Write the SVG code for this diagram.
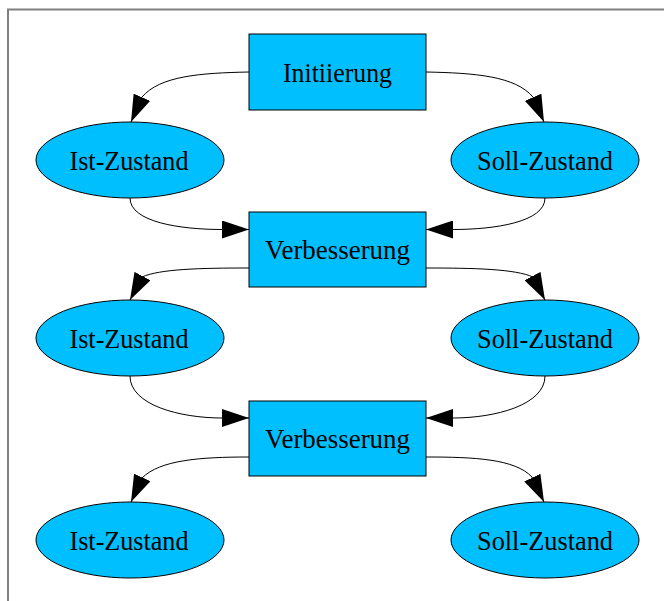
<svg xmlns="http://www.w3.org/2000/svg" width="664" height="601" viewBox="0 0 664 601">
<style>
.n{fill:#00bfff;stroke:#000;stroke-width:1}
.t{font-family:"Liberation Serif","Times New Roman",serif;font-size:27px;fill:#000;text-anchor:middle}
.e{fill:none;stroke:#000;stroke-width:1;marker-end:url(#ah)}
.frame{fill:none;stroke:#808080;stroke-width:2}
</style>
<defs>
<marker id="ah" markerUnits="userSpaceOnUse" viewBox="0 0 27 18" markerWidth="27" markerHeight="18" refX="27" refY="9" orient="auto">
<path d="M0,0 L27,9 L0,18 z" fill="#000"/>
</marker>
</defs>
<rect width="664" height="601" fill="#fff"/>
<path class="frame" d="M8,601 L8,9.5 L664,9.5"/>
<g id="connectors">
<path class="e" d="M249,72 C200,73 160,76 142,97 L131,122"/>
<path class="e" d="M426,72 C475,73 515,76 533,97 L544,122"/>
<path class="e" d="M130,198 C130,222 180,229.5 222,229.5 L249,229.5"/>
<path class="e" d="M545,198 C545,222 495,229.5 453,229.5 L426,229.5"/>
<path class="e" d="M249,268 C200,268 160,269 142,277 L130,300"/>
<path class="e" d="M426,268 C475,268 515,269 533,277 L545,300"/>
<path class="e" d="M130,376 C130,405 180,418 222,418 L249,418"/>
<path class="e" d="M545,376 C545,405 495,418 453,418 L426,418"/>
<path class="e" d="M249,457 C200,457 160,460 142,478 L131,502"/>
<path class="e" d="M426,457 C475,457 515,459 532,477 L544,502"/>
</g>
<g id="init"><rect class="n" x="249" y="34" width="177" height="76"/><text class="t" x="337.5" y="81.5" textLength="109" lengthAdjust="spacingAndGlyphs">Initiierung</text></g>
<g id="ist1"><ellipse class="n" cx="130" cy="160" rx="94" ry="38"/><text class="t" x="129" y="169.5" textLength="119" lengthAdjust="spacingAndGlyphs">Ist-Zustand</text></g>
<g id="soll1"><ellipse class="n" cx="545" cy="160" rx="94" ry="38"/><text class="t" x="545" y="169.5" textLength="136" lengthAdjust="spacingAndGlyphs">Soll-Zustand</text></g>
<g id="verb1"><rect class="n" x="249" y="212" width="177" height="75"/><text class="t" x="337.5" y="259" textLength="145" lengthAdjust="spacingAndGlyphs">Verbesserung</text></g>
<g id="ist2"><ellipse class="n" cx="130" cy="338" rx="94" ry="38"/><text class="t" x="129" y="347.5" textLength="119" lengthAdjust="spacingAndGlyphs">Ist-Zustand</text></g>
<g id="soll2"><ellipse class="n" cx="545" cy="338" rx="94" ry="38"/><text class="t" x="545" y="347.5" textLength="136" lengthAdjust="spacingAndGlyphs">Soll-Zustand</text></g>
<g id="verb2"><rect class="n" x="249" y="401" width="177" height="75"/><text class="t" x="337.5" y="448" textLength="145" lengthAdjust="spacingAndGlyphs">Verbesserung</text></g>
<g id="ist3"><ellipse class="n" cx="130" cy="540" rx="94" ry="38"/><text class="t" x="129" y="549.5" textLength="119" lengthAdjust="spacingAndGlyphs">Ist-Zustand</text></g>
<g id="soll3"><ellipse class="n" cx="545" cy="540" rx="94" ry="38"/><text class="t" x="545" y="549.5" textLength="136" lengthAdjust="spacingAndGlyphs">Soll-Zustand</text></g>
</svg>
